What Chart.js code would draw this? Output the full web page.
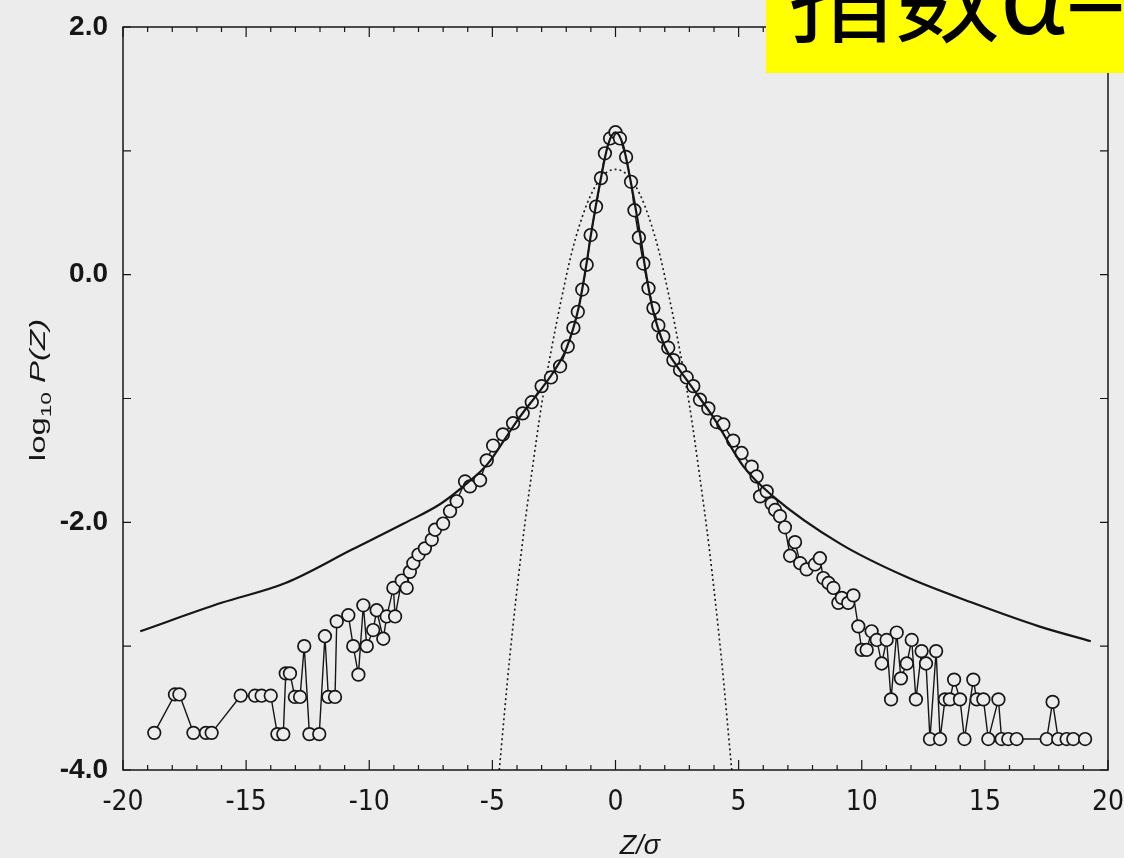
<!DOCTYPE html>
<html>
<head>
<meta charset="utf-8">
<script src="https://cdn.jsdelivr.net/npm/chart.js@4.4.0/dist/chart.umd.min.js"></script>
<style>
body { margin: 0; background: #ececec; }
</style>
</head>
<body>
<canvas id="myChart" width="1124" height="858"></canvas>
<script>

const obsZ = [
	-18.73, -17.89, -17.71, -17.14, -16.63, -16.40, -15.22, -14.64, -14.37, -14.00,
	-13.73, -13.49, -13.39, -13.22, -13.02, -12.81, -12.64, -12.43, -12.03, -11.80,
	-11.66, -11.39, -11.32, -10.85, -10.65, -10.44, -10.24, -10.10, -9.84, -9.70,
	-9.43, -9.29, -9.02, -8.95, -8.68, -8.48, -8.35, -8.21, -8.00, -7.74,
	-7.46, -7.33, -7.00, -6.72, -6.45, -6.11, -5.91, -5.50, -5.23, -4.97,
	-4.57, -4.16, -3.77, -3.40, -3.00, -2.62, -2.25, -1.94, -1.71, -1.53,
	-1.35, -1.17, -1.01, -0.79, -0.59, -0.43, -0.22, 0.00, 0.18, 0.43,
	0.63, 0.77, 0.95, 1.13, 1.34, 1.54, 1.74, 1.94, 2.14, 2.35,
	2.62, 2.89, 3.16, 3.43, 3.77, 4.11, 4.38, 4.78, 5.12, 5.53,
	5.73, 5.87, 6.14, 6.34, 6.48, 6.68, 6.88, 7.09, 7.29, 7.50,
	7.76, 8.10, 8.30, 8.44, 8.65, 8.85, 9.05, 9.19, 9.45, 9.66,
	9.86, 10.00, 10.20, 10.40, 10.61, 10.81, 11.01, 11.19, 11.42, 11.59,
	11.83, 12.03, 12.20, 12.43, 12.61, 12.77, 13.02, 13.18, 13.38, 13.58,
	13.75, 13.99, 14.17, 14.53, 14.67, 14.94, 15.14, 15.55, 15.68, 15.95,
	16.29, 17.51, 17.75, 17.98, 18.32, 18.59, 19.07
];
const obsLogP = [
	-3.70, -3.39, -3.39, -3.70, -3.70, -3.70, -3.40, -3.40, -3.40, -3.40,
	-3.71, -3.71, -3.22, -3.22, -3.41, -3.41, -3.00, -3.71, -3.71, -2.92,
	-3.41, -3.41, -2.80, -2.75, -3.00, -3.23, -2.67, -3.00, -2.87, -2.71,
	-2.94, -2.76, -2.53, -2.76, -2.47, -2.53, -2.40, -2.33, -2.26, -2.21,
	-2.14, -2.06, -2.01, -1.91, -1.83, -1.67, -1.71, -1.66, -1.50, -1.38,
	-1.29, -1.20, -1.12, -1.03, -0.90, -0.83, -0.74, -0.58, -0.43, -0.30,
	-0.12, 0.08, 0.32, 0.55, 0.78, 0.98, 1.10, 1.15, 1.10, 0.95,
	0.75, 0.52, 0.30, 0.09, -0.11, -0.27, -0.41, -0.50, -0.59, -0.69,
	-0.77, -0.83, -0.90, -1.01, -1.08, -1.19, -1.21, -1.34, -1.44, -1.55,
	-1.63, -1.79, -1.75, -1.85, -1.90, -1.95, -2.04, -2.27, -2.16, -2.33,
	-2.38, -2.34, -2.29, -2.45, -2.49, -2.53, -2.65, -2.61, -2.65, -2.59,
	-2.84, -3.03, -3.03, -2.88, -2.95, -3.14, -2.95, -3.43, -2.89, -3.26,
	-3.14, -2.95, -3.43, -3.04, -3.14, -3.75, -3.04, -3.75, -3.43, -3.43,
	-3.27, -3.43, -3.75, -3.27, -3.43, -3.43, -3.75, -3.43, -3.75, -3.75,
	-3.75, -3.75, -3.45, -3.75, -3.75, -3.75, -3.75
];

// solid curve (Levy)
const levyZ = [-19.3, -16.0, -13.4, -10.7, -8.6, -7.1, -6.0, -5.2, -4.5, -4.0, -3.0, -2.5, -2.0, -1.5, -1.2, -1.0, -0.6, -0.3, 0,
	0.3, 0.6, 1.0, 1.2, 1.5, 2.0, 2.5, 3.0, 4.0, 5.2, 6.4, 9.1, 11.8, 14.5, 17.2, 19.3];
const levyLogP = [-2.88, -2.65, -2.49, -2.22, -2.01, -1.85, -1.68, -1.53, -1.33, -1.18, -0.92, -0.78, -0.60, -0.27, 0.06, 0.32, 0.77, 1.05, 1.15,
	1.05, 0.77, 0.32, 0.06, -0.27, -0.58, -0.74, -0.88, -1.16, -1.55, -1.79, -2.17, -2.44, -2.65, -2.84, -2.96];

// dotted curve (Gaussian)
const gaussZ = [-4.72, -4.3, -3.8, -3.4, -3.0, -2.6, -2.2, -1.75, -1.2, -0.8, -0.4, 0, 0.4, 0.8, 1.2, 1.75, 2.2, 2.6, 3.0, 3.4, 3.8, 4.3, 4.72];
const gaussLogP = [-4.0, -3.1, -2.2, -1.6, -1.05, -0.6, -0.2, 0.2, 0.55, 0.72, 0.82, 0.85, 0.82, 0.72, 0.55, 0.2, -0.2, -0.6, -1.05, -1.6, -2.2, -3.1, -4.0];

const yLabelValues = [2, 0, -2, -4];

function toPoints(xs, ys) {
	return xs.map((v, i) => ({x: v, y: ys[i]}));
}

const bg = '#ececec';
const ink = '#161616';

const framePlugin = {
	id: 'frame',
	beforeDraw(chart) {
		const ctx = chart.ctx;
		ctx.save();
		ctx.fillStyle = bg;
		ctx.fillRect(0, 0, chart.width, chart.height);
		ctx.restore();
	},
	afterDraw(chart) {
		const {ctx, chartArea: a, scales: {x, y}} = chart;
		ctx.save();
		ctx.strokeStyle = ink;
		ctx.lineWidth = 1.5;
		ctx.strokeRect(a.left, a.top, a.right - a.left, a.bottom - a.top);

		// inward ticks
		ctx.lineWidth = 1.2;
		for (let v = -20; v <= 20; v++) {
			const px = x.getPixelForValue(v);
			const len = v % 5 === 0 ? 10 : 5;
			ctx.beginPath();
			ctx.moveTo(px, a.bottom); ctx.lineTo(px, a.bottom - len);
			ctx.moveTo(px, a.top); ctx.lineTo(px, a.top + len);
			ctx.stroke();
		}
		for (let v = -4; v <= 2; v++) {
			const py = y.getPixelForValue(v);
			ctx.beginPath();
			ctx.moveTo(a.left, py); ctx.lineTo(a.left + 8, py);
			ctx.moveTo(a.right, py); ctx.lineTo(a.right - 8, py);
			ctx.stroke();
		}

		// axis titles
		ctx.fillStyle = ink;
		ctx.textBaseline = 'alphabetic';
		ctx.font = 'italic 27px "Liberation Sans"';
		ctx.textAlign = 'center';
		ctx.fillText('Z/σ', 640, 854);

		// y title, stretched along the text like the scan
		ctx.translate(45, 390);
		ctx.rotate(-Math.PI / 2);
		ctx.scale(1.5, 1);
		ctx.textAlign = 'left';
		const f1 = '22px "Liberation Sans"';
		const f2 = '15px "Liberation Sans"';
		const f3 = 'italic 22px "Liberation Sans"';
		ctx.font = f1; const w1 = ctx.measureText('log').width;
		ctx.font = f2; const w2 = ctx.measureText('10').width;
		ctx.font = f3; const w3 = ctx.measureText(' P(Z)').width;
		let cx = -(w1 + w2 + w3) / 2;
		ctx.font = f1; ctx.fillText('log', cx, 0); cx += w1;
		ctx.font = f2; ctx.fillText('10', cx, 6); cx += w2;
		ctx.font = f3; ctx.fillText(' P(Z)', cx, 0);
		ctx.restore();

		// yellow label box in the corner
		ctx.save();
		ctx.fillStyle = '#ffff00';
		ctx.fillRect(766, 0, chart.width - 766, 73);
		ctx.fillStyle = '#000';
		ctx.font = 'normal 106px "Noto Sans CJK SC"';
		ctx.textAlign = 'left';
		ctx.textBaseline = 'alphabetic';
		ctx.fillText('指数α=1.4', 788, 34);
		ctx.restore();
	}
};

const myChart = document.getElementById('myChart');

let chart = new Chart(myChart, {
	type: 'scatter',
	data: {
		datasets: [
			{
				label: 'levy',
				data: toPoints(levyZ, levyLogP),
				showLine: true,
				borderColor: ink,
				borderWidth: 2.2,
				pointRadius: 0,
				cubicInterpolationMode: 'monotone',
				order: 0
			},
			{
				label: 'data',
				data: toPoints(obsZ, obsLogP),
				showLine: true,
				borderColor: ink,
				borderWidth: 1.4,
				pointRadius: 6.3,
				pointBorderWidth: 1.7,
				pointBorderColor: ink,
				pointBackgroundColor: bg,
				order: 1
			},
			{
				label: 'gauss',
				data: toPoints(gaussZ, gaussLogP),
				showLine: true,
				borderColor: ink,
				borderWidth: 1.6,
				borderDash: [2, 3],
				pointRadius: 0,
				cubicInterpolationMode: 'monotone',
				order: 2
			}
		]
	},
	options: {
		responsive: false,
		animation: false,
		layout: {padding: {top: 27, right: 16, left: 0, bottom: 0}},
		plugins: {legend: {display: false}, tooltip: {enabled: false}},
		scales: {
			x: {
				type: 'linear',
				min: -20,
				max: 20,
				grid: {display: false, drawTicks: false},
				border: {display: false},
				ticks: {
					stepSize: 5,
					padding: 16,
					color: ink,
					font: {family: '"Liberation Sans Narrow", "DejaVu Sans Condensed", "Liberation Sans"', size: 28}
				},
				afterFit: s => {
					s.height = 88;
					s.paddingLeft = 0;
					s.paddingRight = 0;
				}
			},
			y: {
				min: -4,
				max: 2,
				grid: {display: false, drawTicks: false},
				border: {display: false},
				ticks: {
					stepSize: 1,
					padding: 15,
					color: ink,
					font: {family: '"Liberation Sans"', size: 28, weight: 'bold'},
					callback: v => yLabelValues.includes(v) ? v.toFixed(1) : ''
				},
				afterFit: s => {
					s.width = 123;
					s.paddingTop = 0;
					s.paddingBottom = 0;
				}
			}
		}
	},
	plugins: [framePlugin]
});
</script>
</body>
</html>
